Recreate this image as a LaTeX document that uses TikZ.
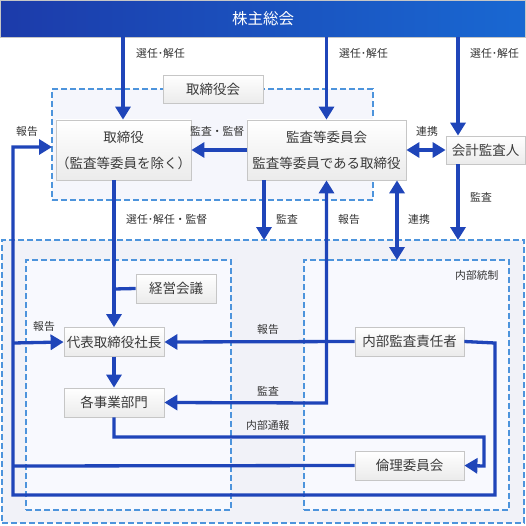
\documentclass[tikz,border=0pt]{standalone}
\usepackage{fontspec}
\setmainfont{Noto Sans CJK JP}
\usetikzlibrary{arrows.meta,calc}
\definecolor{lineblue}{HTML}{1F45B9}
\definecolor{dashblue}{HTML}{4D94DC}
\definecolor{boxborder}{HTML}{C6C6C6}
\definecolor{boxbottom}{HTML}{EBEBEB}
\definecolor{boxtext}{HTML}{3A3A3A}
\definecolor{lbltext}{HTML}{333333}
\definecolor{bigfill}{HTML}{F1F2F8}
\definecolor{innerfill}{HTML}{F8F9FE}
\definecolor{bandleft}{HTML}{1C3BAA}
\definecolor{bandright}{HTML}{1968D2}
\tikzset{
  conn/.style={draw=lineblue, line width=3.3pt},
  arr/.style={conn, -{Triangle[length=13pt,width=15pt]}},
  darr/.style={conn, {Triangle[length=13pt,width=15pt]}-{Triangle[length=13pt,width=15pt]}},
  box/.style={draw=boxborder, line width=0.8pt, top color=white, bottom color=boxbottom,
    text=boxtext, font=\fontsize{13.5}{26}\selectfont, inner sep=0pt, align=center},
  grp/.style={draw=dashblue, line width=1.5pt, dash pattern=on 6pt off 3pt, inner sep=0pt, outer sep=0pt, anchor=north west},
  lbl/.style={anchor=west, text=lbltext, font=\fontsize{10.8}{12}\selectfont, inner sep=0pt},
}
\begin{document}
\begin{tikzpicture}[x=1pt,y=-1pt]
\useasboundingbox (0,0) rectangle (526,526);
\fill[white] (0,0) rectangle (526,526);

% banner
\node[left color=bandleft, right color=bandright, draw=boxborder, line width=0.6pt,
  minimum width=525pt, minimum height=37pt, inner sep=0pt, text=white,
  font=\fontsize{15.5}{18}\selectfont] (soukai) at (263,18.5) {株主総会};

% group boxes
\node[grp, fill=bigfill, minimum width=522pt, minimum height=283pt] (gbig) at (2,240) {};
\node[grp, fill=innerfill, minimum width=205pt, minimum height=250pt] (gleft) at (26,260) {};
\node[grp, fill=innerfill, minimum width=205pt, minimum height=250pt] (gright) at (304,260) {};
\node[grp, fill=innerfill!60!bigfill, minimum width=321pt, minimum height=111pt] (gboard) at (52,89) {};

% nodes
\node[box, minimum width=100pt, minimum height=28pt] (boardlbl) at (213,89) {取締役会};
\node[box, minimum width=125pt, minimum height=60pt] (tori) at (123.5,150) {取締役\\（監査等委員を除く）};
\node[box, minimum width=159pt, minimum height=60pt] (kansa) at (326.5,150) {監査等委員会\\監査等委員である取締役};
\node[box, minimum width=79pt, minimum height=28pt] (kaikei) at (485.5,150) {会計監査人};
\node[box, minimum width=80pt, minimum height=29pt] (keiei) at (176,288.5) {経営会議};
\node[box, minimum width=100pt, minimum height=29pt] (daihyo) at (114,342) {代表取締役社長};
\node[box, minimum width=109pt, minimum height=29pt] (naibu) at (409.5,341.5) {内部監査責任者};
\node[box, minimum width=100pt, minimum height=29pt] (jigyo) at (114,402.5) {各事業部門};
\node[box, minimum width=109pt, minimum height=29pt] (rinri) at (409.5,465.5) {倫理委員会};

% coordinates
\coordinate (leftrail) at (13,343);
\coordinate (leftbot) at (13,495);

% connectors
\draw[arr] (soukai.south -| 123,0) -- (tori.north -| 123,0);
\draw[arr] (soukai.south -| kansa.north) -- (kansa.north);
\draw[arr] (soukai.south -| 458,0) -- (kaikei.north -| 458,0);
\draw[arr] (kansa.west) -- (tori.east);
\draw[darr] (kansa.east) -- (kaikei.west);
\draw[arr] (naibu.east) -- (495,343) -- (495,495) -- (leftbot) -- (13,147) -- (gboard.west |- 0,147);
\draw[arr] (leftrail) -- (daihyo.west);
\draw[arr] (tori.south -| daihyo.north) -- (daihyo.north);
\draw[conn] (114,289) -- (keiei.west);
\draw[arr] (naibu.west) -- (daihyo.east);
\draw[arr] (daihyo.south) -- (jigyo.north);
\draw[darr] (kansa.south) -- (326.5,403) -- (jigyo.east);
\draw[arr] (kansa.south -| 264,0) -- (gbig.north -| 264,0);
\draw[darr] (kansa.south -| 397,0) -- (gright.north -| 397,0);
\draw[arr] (kaikei.south -| 458,0) -- (gbig.north -| 458,0);
\draw[arr] (jigyo.south) -- (114,437) -- (484,437) -- (484,466) -- (rinri.east);
\draw[conn] (rinri.west) -- (13,466);

% labels
\node[lbl] (l1) at (136,53) {選任･解任};
\node[lbl] (l2) at (339,53) {選任･解任};
\node[lbl] (l3) at (470,53) {選任･解任};
\node[lbl] (l4) at (190,131) {監査・監督};
\node[lbl] (l5) at (416,131) {連携};
\node[lbl] (l6) at (16,131) {報告};
\node[lbl] (l7) at (470,197) {監査};
\node[lbl] (l8) at (126,219) {選任･解任・監督};
\node[lbl] (l9) at (276,219) {監査};
\node[lbl] (l10) at (338,219) {報告};
\node[lbl] (l11) at (408,219) {連携};
\node[lbl] (l12) at (455,275) {内部統制};
\node[lbl] (l13) at (33,326) {報告};
\node[lbl] (l14) at (257,329) {報告};
\node[lbl] (l15) at (257,391) {監査};
\node[lbl] (l16) at (246,425) {内部通報};
\end{tikzpicture}
\end{document}
